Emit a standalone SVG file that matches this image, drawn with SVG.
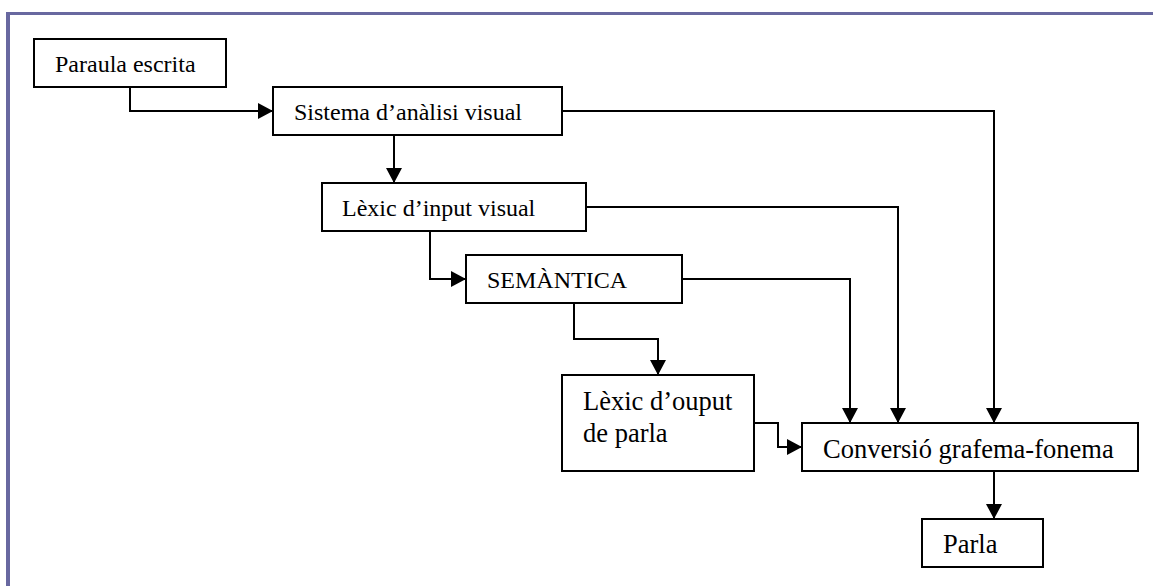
<svg xmlns="http://www.w3.org/2000/svg" width="1153" height="586" viewBox="0 0 1153 586">
<style>
.box{fill:#fff;stroke:#000;stroke-width:2}
.t{font-family:"Liberation Serif","Times New Roman",serif;font-size:24px;fill:#000}
.t2{font-family:"Liberation Serif","Times New Roman",serif;font-size:26.5px;fill:#000}
.c{fill:none;stroke:#000;stroke-width:2;marker-end:url(#ah)}
.frame{stroke:#6868a0;fill:none}
</style>
<defs>
<marker id="ah" markerWidth="16" markerHeight="16" refX="15" refY="8" orient="auto" markerUnits="userSpaceOnUse">
<path d="M0,0 L15,8 L0,16 z" fill="#000"/>
</marker>
</defs>
<rect width="1153" height="586" fill="#fff"/>
<g id="frame">
<line class="frame" x1="6" y1="13.5" x2="1153" y2="13.5" stroke-width="3"/>
<line class="frame" x1="8" y1="12" x2="8" y2="586" stroke-width="4"/>
</g>
<g id="connectors">
<path class="c" d="M130,87 V111 H273"/>
<path class="c" d="M394,135 V183"/>
<path class="c" d="M562,111 H994 V423"/>
<path class="c" d="M430,231 V279 H466"/>
<path class="c" d="M586,207 H898 V423"/>
<path class="c" d="M574,303 V339 H658 V375"/>
<path class="c" d="M682,279 H850 V423"/>
<path class="c" d="M754,423 H778 V447 H802"/>
<path class="c" d="M994,471 V519"/>
</g>
<g id="paraula">
<rect class="box" x="34" y="39" width="192" height="48"/>
<text class="t" x="55" y="71.5">Paraula escrita</text>
</g>
<g id="sistema">
<rect class="box" x="273" y="87" width="289" height="48"/>
<text class="t" x="294" y="120">Sistema d’anàlisi visual</text>
</g>
<g id="lexic-input">
<rect class="box" x="322" y="183" width="264" height="48"/>
<text class="t" x="342" y="215.5">Lèxic d’input visual</text>
</g>
<g id="semantica">
<rect class="box" x="466" y="255" width="216" height="48"/>
<text class="t" x="487" y="288">SEMÀNTICA</text>
</g>
<g id="lexic-output">
<rect class="box" x="562" y="375" width="192" height="96"/>
<text class="t2" x="583" y="410">Lèxic d’ouput</text>
<text class="t2" x="583" y="441.5">de parla</text>
</g>
<g id="conversio">
<rect class="box" x="802" y="423" width="336" height="48"/>
<text class="t2" x="823" y="457.5">Conversió grafema-fonema</text>
</g>
<g id="parla">
<rect class="box" x="922" y="519" width="121" height="48"/>
<text class="t2" x="943" y="553">Parla</text>
</g>
</svg>
